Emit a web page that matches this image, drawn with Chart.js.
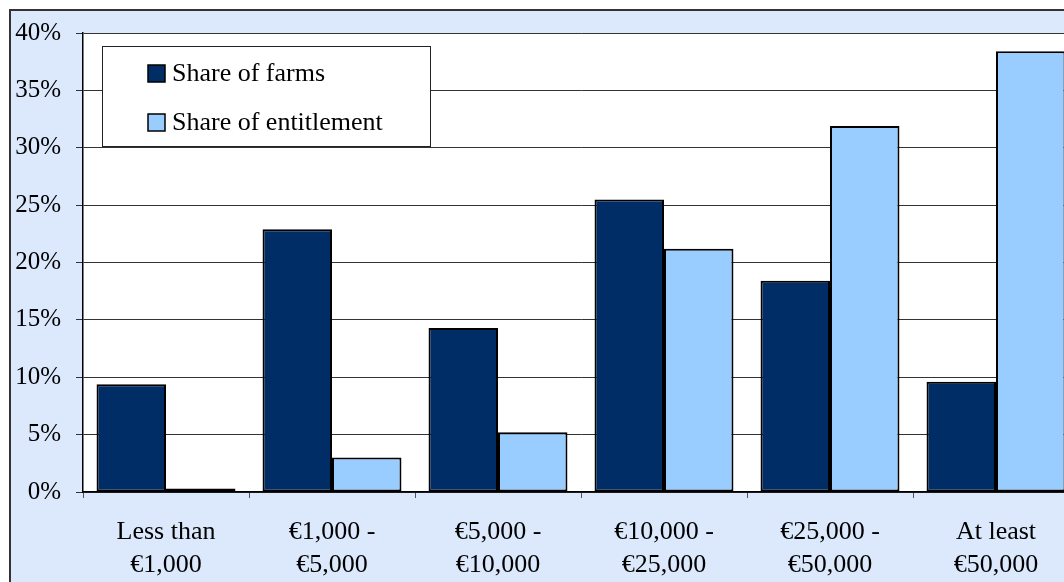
<!DOCTYPE html>
<html>
<head>
<meta charset="utf-8">
<script src="https://cdn.jsdelivr.net/npm/chart.js@4/dist/chart.umd.min.js"></script>
<style>
  html, body { margin: 0; padding: 0; overflow: hidden; background: #fff; }
  canvas { display: block; }
</style>
</head>
<body>
<canvas id="myChart" width="1100" height="620"></canvas>
<script>
const categories = [
    ['Less than', '€1,000'],
    ['€1,000 -', '€5,000'],
    ['€5,000 -', '€10,000'],
    ['€10,000 -', '€25,000'],
    ['€25,000 -', '€50,000'],
    ['At least', '€50,000']
];
const shareOfFarms = [9.4, 22.9, 14.3, 25.5, 18.4, 9.6];
const shareOfEntitlement = [0.3, 3.0, 5.2, 21.2, 31.9, 38.4];
const seriesNames = ['Share of farms', 'Share of entitlement'];
const yTicks = [0, 5, 10, 15, 20, 25, 30, 35, 40];

const FONT = 'Liberation Serif, Times New Roman, serif';

// frame + white plot area
const backdrop = {
    id: 'backdrop',
    beforeDraw(chart) {
        const c = chart.ctx, a = chart.chartArea;
        c.save();
        c.fillStyle = '#fff';
        c.fillRect(0, 0, chart.width, chart.height);
        c.fillStyle = '#dce9fd';
        c.fillRect(10, 10, chart.width - 10, chart.height - 10);
        c.strokeStyle = '#333';
        c.lineWidth = 2;
        c.strokeRect(10, 10, chart.width + 10, chart.height + 10);
        c.fillStyle = '#fff';
        c.fillRect(a.left, a.top, a.right - a.left, a.bottom - a.top);
        c.restore();
    }
};

// boxed legend inside the plot
const boxLegend = {
    id: 'boxLegend',
    afterDraw(chart) {
        const c = chart.ctx;
        c.save();
        c.fillStyle = '#fff';
        c.fillRect(102, 46, 328, 100);
        c.strokeStyle = '#222';
        c.lineWidth = 1;
        c.strokeRect(102.5, 46.5, 328, 100);
        c.font = '26px ' + FONT;
        c.textBaseline = 'middle';
        chart.data.datasets.forEach((ds, i) => {
            const y = 73 + i * 49;
            c.fillStyle = ds.backgroundColor;
            c.fillRect(148, y - 8, 17, 17);
            c.strokeStyle = '#000';
            c.lineWidth = 1.5;
            c.strokeRect(148, y - 8, 17, 17);
            c.fillStyle = '#000';
            c.fillText(ds.label, 172, y + 1);
        });
        c.restore();
    }
};

const ctx = document.getElementById('myChart').getContext('2d');
const myChart = new Chart(ctx, {
    type: 'bar',
    data: {
        labels: categories,
        datasets: [{
            label: seriesNames[0],
            data: shareOfFarms,
            backgroundColor: '#002d66',
            borderColor: '#000',
            borderWidth: 2,
            borderSkipped: false
        }, {
            label: seriesNames[1],
            data: shareOfEntitlement,
            backgroundColor: '#99ccff',
            borderColor: '#000',
            borderWidth: 2,
            borderSkipped: false
        }]
    },
    options: {
        responsive: false,
        animation: false,
        layout: { padding: { left: 0, top: 33, right: 21, bottom: 0 } },
        datasets: { bar: { categoryPercentage: 0.837, barPercentage: 1.0 } },
        scales: {
            x: {
                offset: true,
                grid: {
                    drawOnChartArea: false,
                    offset: true,
                    tickLength: 6,
                    color: '#555'
                },
                border: { color: '#000', width: 1.5 },
                ticks: {
                    color: '#000',
                    padding: 18,
                    maxRotation: 0,
                    font: { family: FONT, size: 26, lineHeight: 1.27 }
                },
                afterFit(scale) { scale.height = 128; }
            },
            y: {
                min: 0,
                max: 40,
                afterBuildTicks(scale) { scale.ticks = yTicks.map(v => ({ value: v })); },
                grid: { color: '#333', lineWidth: 1, tickLength: 7 },
                border: { color: '#000', width: 1.5 },
                ticks: {
                    color: '#000',
                    padding: 15,
                    font: { family: FONT, size: 25 },
                    callback: v => v + '%'
                },
                afterFit(scale) { scale.width = 83; }
            }
        },
        plugins: {
            legend: { display: false },
            tooltip: { enabled: false }
        }
    },
    plugins: [backdrop, boxLegend]
});
</script>
</body>
</html>
